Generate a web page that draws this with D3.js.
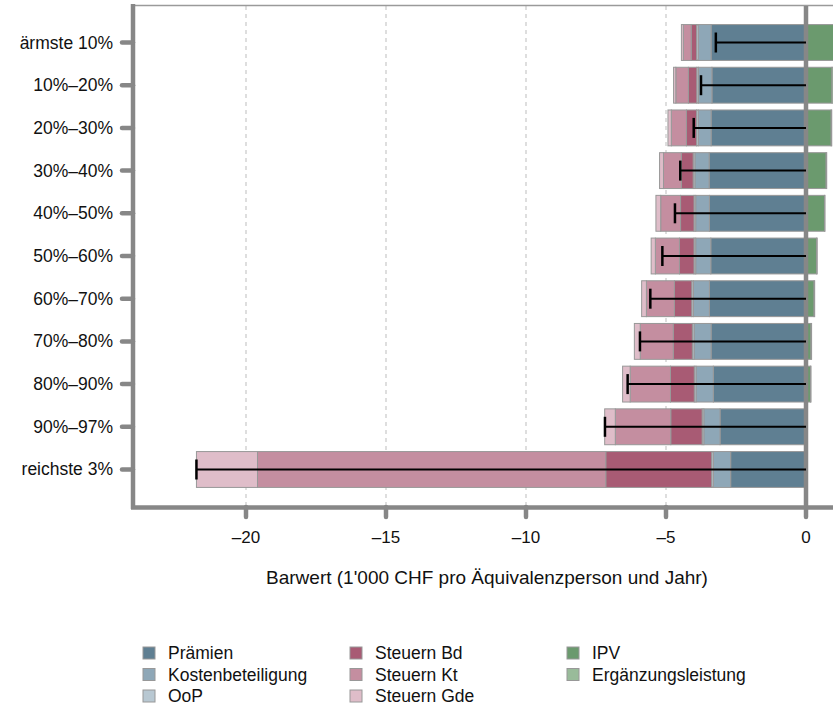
<!DOCTYPE html>
<html>
<head>
<meta charset="utf-8">
<script src="https://cdn.jsdelivr.net/npm/d3@7"></script>
<style>
  body { margin: 0; background: #fff; }
  svg text { font-family: "Liberation Sans", Arial, sans-serif; fill: #111; }
</style>
</head>
<body>
<svg id="chart" width="833" height="705"></svg>
<script>
// Data (1'000 CHF per equivalent person and year)
const groups = ["ärmste 10%", "10%–20%", "20%–30%", "30%–40%", "40%–50%", "50%–60%",
                "60%–70%", "70%–80%", "80%–90%", "90%–97%", "reichste 3%"];
const praemien   = [-3.39, -3.36, -3.39, -3.46, -3.45, -3.40, -3.45, -3.39, -3.31, -3.07, -2.69];
const kostenbet  = [-0.46, -0.48, -0.46, -0.51, -0.49, -0.54, -0.57, -0.61, -0.62, -0.58, -0.62];
const oop        = [-0.06, -0.06, -0.06, -0.06, -0.06, -0.06, -0.06, -0.06, -0.06, -0.06, -0.06];
const steuernBd  = [-0.19, -0.30, -0.36, -0.42, -0.48, -0.52, -0.62, -0.68, -0.85, -1.12, -3.78];
const steuernKt  = [-0.28, -0.45, -0.54, -0.64, -0.71, -0.86, -1.00, -1.18, -1.44, -1.98, -12.44];
const steuernGde = [-0.07, -0.08, -0.12, -0.14, -0.17, -0.15, -0.17, -0.21, -0.27, -0.38, -2.18];
const ipv        = [1.15, 0.93, 0.90, 0.72, 0.66, 0.38, 0.29, 0.18, 0.16, 0.01, 0];
const ergLeist   = [0.08, 0.05, 0.02, 0.02, 0.02, 0.02, 0.02, 0.02, 0.02, 0, 0];
const xTicks = [-20, -15, -10, -5, 0];

const keys = ["Prämien", "Kostenbeteiligung", "OoP", "Steuern Bd", "Steuern Kt", "Steuern Gde",
              "IPV", "Ergänzungsleistung"];
const series = [praemien, kostenbet, oop, steuernBd, steuernKt, steuernGde, ipv, ergLeist];
const colors = ["#5f7f92", "#8ea7b7", "#b8c8d2", "#a85b74", "#c48ea0", "#dfbdc9", "#6b9a6e", "#99bb9a"];

const rows = groups.map((g, i) => {
    const r = { group: g };
    keys.forEach((k, j) => r[k] = series[j][i]);
    r.net = d3.sum(series, s => s[i]);
    return r;
});

const svg = d3.select("#chart");
const axisColor = "#878787";
const labelSize = 17.5;

const x = d3.scaleLinear().domain([-20, 0]).range([246, 806]);
const y = d3.scalePoint().domain(groups).range([6, 506]).padding(0.855);
const barH = y.step() * 0.84;
const color = d3.scaleOrdinal().domain(keys).range(colors);

// grid lines
svg.append("g").selectAll("line")
    .data(xTicks.filter(d => d !== 0))
    .join("line")
    .attr("x1", d => x(d)).attr("x2", d => x(d))
    .attr("y1", 6).attr("y2", 506)
    .attr("stroke", "#bdbdbd")
    .attr("stroke-dasharray", "4,4");

// top border
svg.append("line")
    .attr("x1", 133).attr("x2", 833)
    .attr("y1", 5.5).attr("y2", 5.5)
    .attr("stroke", "#9a9a9a").attr("stroke-width", 1.5);

// stacked bars
const stacked = d3.stack().keys(keys).offset(d3.stackOffsetDiverging)(rows);

svg.append("g").selectAll("g")
    .data(stacked)
    .join("g")
    .attr("fill", d => color(d.key))
    .selectAll("rect")
    .data(d => d)
    .join("rect")
    .attr("x", d => x(Math.min(d[0], d[1])))
    .attr("width", d => Math.abs(x(d[1]) - x(d[0])))
    .attr("y", d => y(d.data.group) - barH / 2)
    .attr("height", barH)
    .attr("stroke", "#989898")
    .attr("stroke-width", 1);

// zero line
svg.append("line")
    .attr("x1", x(0)).attr("x2", x(0))
    .attr("y1", 6).attr("y2", 506)
    .attr("stroke", axisColor).attr("stroke-width", 4.5);

// net lines with cap
const net = svg.append("g").attr("stroke", "#000");
net.selectAll("line.h")
    .data(rows)
    .join("line")
    .attr("class", "h")
    .attr("x1", d => x(d.net)).attr("x2", x(0))
    .attr("y1", d => y(d.group)).attr("y2", d => y(d.group))
    .attr("stroke-width", 2);
net.selectAll("line.cap")
    .data(rows)
    .join("line")
    .attr("class", "cap")
    .attr("x1", d => x(d.net)).attr("x2", d => x(d.net))
    .attr("y1", d => y(d.group) - 10).attr("y2", d => y(d.group) + 10)
    .attr("stroke-width", 2.5);

// x axis
const xAxis = svg.append("g");
xAxis.append("line")
    .attr("x1", 131).attr("x2", 833)
    .attr("y1", 507.5).attr("y2", 507.5)
    .attr("stroke", axisColor).attr("stroke-width", 4.5);
xAxis.selectAll("line.tick")
    .data(xTicks)
    .join("line")
    .attr("class", "tick")
    .attr("x1", d => x(d)).attr("x2", d => x(d))
    .attr("y1", 507).attr("y2", 517)
    .attr("stroke", axisColor).attr("stroke-width", 4.5)
    .attr("stroke-linecap", "round");
xAxis.selectAll("text")
    .data(xTicks)
    .join("text")
    .attr("x", d => x(d)).attr("y", 543)
    .attr("text-anchor", "middle")
    .attr("font-size", 17)
    .text(d => d < 0 ? "\u2013" + Math.abs(d) : d);
svg.append("text")
    .attr("x", 487).attr("y", 584)
    .attr("text-anchor", "middle")
    .attr("font-size", 19)
    .text("Barwert (1'000 CHF pro Äquivalenzperson und Jahr)");

// y axis
const yAxis = svg.append("g");
yAxis.append("line")
    .attr("x1", 133).attr("x2", 133)
    .attr("y1", 4).attr("y2", 509)
    .attr("stroke", axisColor).attr("stroke-width", 4.5);
yAxis.selectAll("line.tick")
    .data(groups)
    .join("line")
    .attr("class", "tick")
    .attr("x1", 122).attr("x2", 133)
    .attr("y1", d => y(d)).attr("y2", d => y(d))
    .attr("stroke", axisColor).attr("stroke-width", 4.5)
    .attr("stroke-linecap", "round");
yAxis.selectAll("text")
    .data(groups)
    .join("text")
    .attr("x", 113).attr("y", d => y(d) + 6)
    .attr("text-anchor", "end")
    .attr("font-size", labelSize)
    .text(d => d);

// legend, three columns
const legendCols = [143, 350, 567];
const legend = svg.append("g").selectAll("g")
    .data(keys)
    .join("g")
    .attr("transform", (d, i) => {
        const col = i < 3 ? 0 : i < 6 ? 1 : 2;
        const row = i < 3 ? i : i < 6 ? i - 3 : i - 6;
        return `translate(${legendCols[col]},${653 + row * 21.5})`;
    });
legend.append("rect")
    .attr("x", 0).attr("y", -6)
    .attr("width", 12).attr("height", 12)
    .attr("fill", d => color(d))
    .attr("stroke", "#989898");
legend.append("text")
    .attr("x", 25).attr("y", 6)
    .attr("font-size", labelSize)
    .text(d => d);
</script>
</body>
</html>
